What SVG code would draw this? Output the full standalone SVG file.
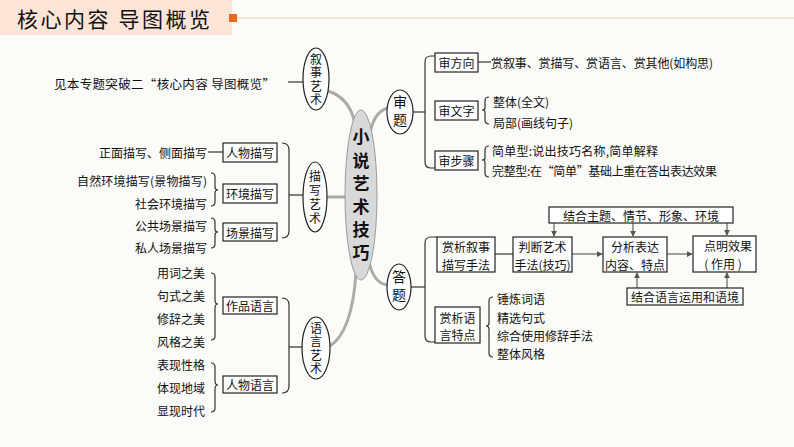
<svg xmlns="http://www.w3.org/2000/svg" width="794" height="447" viewBox="0 0 794 447">
<defs>
<style>
text{font-family:"Noto Sans CJK SC","Liberation Serif",serif;fill:#111;}
.t{font-size:12px;dominant-baseline:central;}
.v{font-size:12px;writing-mode:vertical-rl;text-anchor:middle;letter-spacing:1.5px;}
.c{font-size:17px;font-weight:bold;writing-mode:vertical-rl;text-anchor:middle;letter-spacing:6.2px;}
.box{fill:#fff;stroke:#222;stroke-width:1.2;}
.ln{fill:none;stroke:#333;stroke-width:1.2;}
.gr{fill:none;stroke:#ababab;stroke-width:3;}
.el{fill:#fff;stroke:#222;stroke-width:1.2;}
.ar{fill:none;stroke:#555;stroke-width:1.1;marker-end:url(#ah);}
</style>
<marker id="ah" viewBox="0 0 8 8" refX="7" refY="4" markerWidth="6" markerHeight="6" orient="auto" markerUnits="userSpaceOnUse">
<path d="M0,0 L8,4 L0,8 z" fill="#555"/>
</marker>
</defs>
<rect x="0" y="0" width="794" height="447" fill="#fbfbfa"/>
<g id="header">
<rect x="0" y="0" width="232" height="35" fill="#fce5d6"/>
<text x="17" y="27" style="font-size:21px" textLength="193">核心内容 导图概览</text>
<rect x="229" y="14" width="8" height="8" fill="#e8691e"/>
<line x1="237" y1="18" x2="794" y2="18" stroke="#e3cfa5" stroke-width="1.2"/>
</g>

<g id="connectors">
<path class="gr" d="M328,91 Q350,98 355,124"/>
<path class="gr" d="M327,197 L346,197"/>
<path class="gr" d="M356,273 Q352,332 330,346"/>
<path class="gr" d="M369,140 Q372,112 388,108"/>
<path class="gr" d="M369,262 Q374,284 388,285"/>
<!-- left -->
<path class="ln" d="M288,82 L303,82"/>
<path class="ln" d="M208,152 L223,152"/>
<path class="ln" d="M282,143 Q289,143 289,150 L289,231 Q289,238 282,238"/>
<path class="ln" d="M289,195 L303,195"/>
<path class="ln" d="M211,173 Q215,173 215,177 L215,187 Q215,190 218,190 Q215,190 215,193 L215,202 Q215,206 211,206"/>
<path class="ln" d="M211,218 Q215,218 215,222 L215,229 Q215,232 218,232 Q215,232 215,235 L215,244 Q215,248 211,248"/>
<path class="ln" d="M282,298 Q289,298 289,305 L289,386 Q289,393 282,393"/>
<path class="ln" d="M289,347 L302,347"/>
<path class="ln" d="M211,273 Q215,273 215,277 L215,300 Q215,304 218,304 Q215,304 215,308 L215,336 Q215,340 211,340"/>
<path class="ln" d="M211,363 Q215,363 215,367 L215,381 Q215,385 218,385 Q215,385 215,389 L215,408 Q215,412 211,412"/>
<!-- right 审题 -->
<path class="ln" d="M413,112 L425,112"/>
<path class="ln" d="M435,56 L431,56 Q425,56 425,62 L425,162 Q425,168 431,168 L435,168"/>
<path class="ln" d="M478,62 L491,62"/>
<path class="ln" d="M489,97 Q485,97 485,101 L485,108 Q485,110 482,110 Q485,110 485,112 L485,120 Q485,124 489,124"/>
<path class="ln" d="M489,146 Q485,146 485,150 L485,158 Q485,160 482,160 Q485,160 485,162 L485,173 Q485,177 489,177"/>
<!-- right 答题 -->
<path class="ln" d="M411,287 L425,287"/>
<path class="ln" d="M437,237 L431,237 Q425,237 425,243 L425,336 Q425,342 431,342 L435,342"/>
<path class="ln" d="M495,254 L513,254"/>
<path class="ar" d="M572,254 L602,254"/>
<path class="ar" d="M667,254 L692,254"/>
<path class="ar" d="M554,223 L554,236"/>
<path class="ar" d="M633,223 L633,236"/>
<path class="ar" d="M727,223 L727,235"/>
<path class="ar" d="M637,288 L637,273"/>
<path class="ar" d="M727,288 L727,273"/>
<path class="ln" d="M493,297 Q489,297 489,301 L489,323 Q489,326 486,326 Q489,326 489,329 L489,353 Q489,357 493,357"/>
</g>

<g id="center">
<ellipse cx="361" cy="195" rx="16" ry="85" fill="#d9d9d9" stroke="#9a9a9a" stroke-width="1"/>
<text class="c" x="361" y="198">小说艺术技巧</text>
</g>

<g id="node-xushi">
<ellipse class="el" cx="316" cy="79" rx="13" ry="31"/>
<text class="v" x="316" y="80">叙事艺术</text>
<text class="t" x="54" y="83" textLength="221" style="font-size:12.5px">见本专题突破二“核心内容 导图概览”</text>
</g>

<g id="node-miaoxie">
<ellipse class="el" cx="315" cy="197" rx="12" ry="35"/>
<text class="v" x="315" y="198" style="letter-spacing:2px">描写艺术</text>
</g>
<g id="box-renwumiaoxie"><rect class="box" x="223" y="143" width="54" height="19"/><text class="t" x="250" y="152.5" text-anchor="middle">人物描写</text></g>
<g id="box-huanjing"><rect class="box" x="223" y="184" width="54" height="19"/><text class="t" x="250" y="193.5" text-anchor="middle">环境描写</text></g>
<g id="box-changjing"><rect class="box" x="223" y="223" width="54" height="18"/><text class="t" x="250" y="232" text-anchor="middle">场景描写</text></g>
<g id="miaoxie-texts">
<text class="t" x="207" y="152" text-anchor="end">正面描写、侧面描写</text>
<text class="t" x="207" y="180" text-anchor="end" textLength="130">自然环境描写(景物描写)</text>
<text class="t" x="207" y="203" text-anchor="end">社会环境描写</text>
<text class="t" x="207" y="225" text-anchor="end">公共场景描写</text>
<text class="t" x="207" y="247" text-anchor="end">私人场景描写</text>
</g>

<g id="node-yuyan">
<ellipse class="el" cx="316" cy="348" rx="14" ry="31"/>
<text class="v" x="316" y="349">语言艺术</text>
</g>
<g id="box-zuopin"><rect class="box" x="223" y="297" width="54" height="17"/><text class="t" x="250" y="305.5" text-anchor="middle">作品语言</text></g>
<g id="box-renwuyuyan"><rect class="box" x="223" y="376" width="54" height="17"/><text class="t" x="250" y="384.5" text-anchor="middle">人物语言</text></g>
<g id="yuyan-texts">
<text class="t" x="157" y="272">用词之美</text>
<text class="t" x="157" y="295">句式之美</text>
<text class="t" x="157" y="318">修辞之美</text>
<text class="t" x="157" y="341">风格之美</text>
<text class="t" x="157" y="364">表现性格</text>
<text class="t" x="157" y="387">体现地域</text>
<text class="t" x="157" y="410">显现时代</text>
</g>

<g id="node-shenti">
<ellipse class="el" cx="400" cy="112" rx="13" ry="22"/>
<text class="v" x="400" y="113" style="font-size:14px;letter-spacing:4px">审题</text>
</g>
<g id="box-shenfangxiang"><rect class="box" x="435" y="53" width="43" height="19"/><text class="t" x="456.5" y="62.5" text-anchor="middle">审方向</text></g>
<g id="box-shenwenzi"><rect class="box" x="435" y="101" width="43" height="19"/><text class="t" x="456.5" y="110.5" text-anchor="middle">审文字</text></g>
<g id="box-shenbuzhou"><rect class="box" x="435" y="151" width="43" height="19"/><text class="t" x="456.5" y="160.5" text-anchor="middle">审步骤</text></g>
<g id="shenti-texts">
<text class="t" x="491" y="62" textLength="222">赏叙事、赏描写、赏语言、赏其他(如构思)</text>
<text class="t" x="493" y="101">整体(全文)</text>
<text class="t" x="493" y="122">局部(画线句子)</text>
<text class="t" x="492" y="150" textLength="166">简单型:说出技巧名称,简单解释</text>
<text class="t" x="492" y="170" textLength="225">完整型:在“简单”基础上重在答出表达效果</text>
</g>

<g id="node-dati">
<ellipse class="el" cx="399" cy="287" rx="12" ry="23"/>
<text class="v" x="399" y="288" style="font-size:14px;letter-spacing:4px">答题</text>
</g>
<g id="box-shangxixushi"><rect class="box" x="437" y="237" width="58" height="35"/><text class="t" x="466" y="246" text-anchor="middle">赏析叙事</text><text class="t" x="466" y="264" text-anchor="middle">描写手法</text></g>
<g id="box-panduan"><rect class="box" x="513" y="237" width="59" height="35"/><text class="t" x="542.5" y="246" text-anchor="middle">判断艺术</text><text class="t" x="542.5" y="264" text-anchor="middle">手法(技巧)</text></g>
<g id="box-fenxi"><rect class="box" x="603" y="237" width="64" height="35"/><text class="t" x="635" y="246" text-anchor="middle">分析表达</text><text class="t" x="635" y="264" text-anchor="middle">内容、特点</text></g>
<g id="box-dianming"><rect class="box" x="693" y="236" width="63" height="36"/><text class="t" x="728" y="245" text-anchor="middle">点明效果</text><text class="t" x="723" y="263" text-anchor="middle">( 作用 )</text></g>
<g id="box-jiehezhuti"><rect class="box" x="549" y="207" width="184" height="16"/><text class="t" x="641" y="215" text-anchor="middle">结合主题、情节、形象、环境</text></g>
<g id="box-jieheyuyan"><rect class="box" x="627" y="288" width="116" height="17"/><text class="t" x="685" y="296.5" text-anchor="middle">结合语言运用和语境</text></g>
<g id="box-shangxiyuyan"><rect class="box" x="435" y="307" width="45" height="36"/><text class="t" x="457.5" y="317" text-anchor="middle">赏析语</text><text class="t" x="457.5" y="334" text-anchor="middle">言特点</text></g>
<g id="dati-texts">
<text class="t" x="497" y="298">锤炼词语</text>
<text class="t" x="497" y="317">精选句式</text>
<text class="t" x="497" y="335">综合使用修辞手法</text>
<text class="t" x="497" y="353">整体风格</text>
</g>
</svg>
